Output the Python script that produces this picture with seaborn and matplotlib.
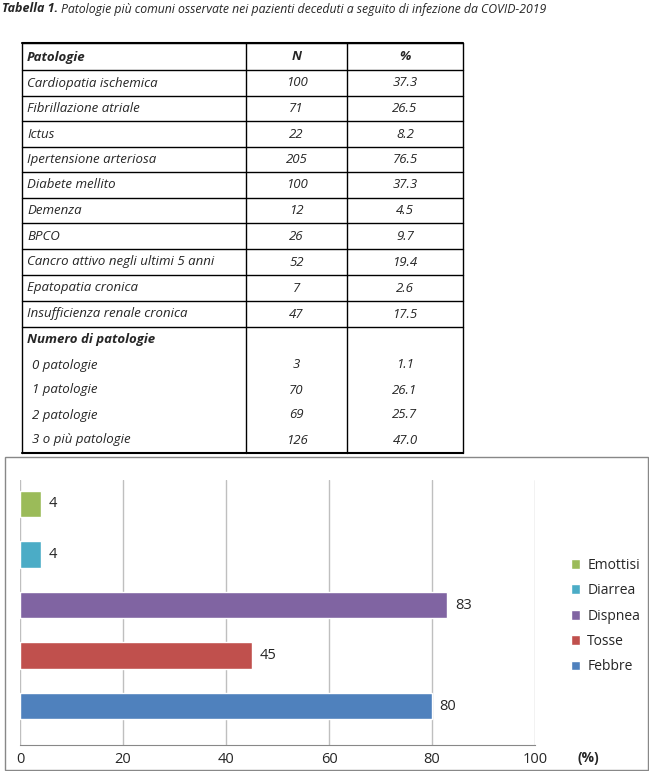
import matplotlib
matplotlib.use("Agg")
import matplotlib.pyplot as plt
import seaborn as sns
import pandas as pd
from matplotlib.patches import Patch, Rectangle

# table data
pathologies = ["Cardiopatia ischemica", "Fibrillazione atriale", "Ictus",
               "Ipertensione arteriosa", "Diabete mellito", "Demenza", "BPCO",
               "Cancro attivo negli ultimi 5 anni", "Epatopatia cronica",
               "Insufficienza renale cronica"]
path_n = ["100", "71", "22", "205", "100", "12", "26", "52", "7", "47"]
path_pct = ["37.3", "26.5", "8.2", "76.5", "37.3", "4.5", "9.7", "19.4", "2.6", "17.5"]
count_labels = ["0 patologie", "1 patologie", "2 patologie", "3 o più patologie"]
count_n = ["3", "70", "69", "126"]
count_pct = ["1.1", "26.1", "25.7", "47.0"]

# chart data
symptoms = ["Emottisi", "Diarrea", "Dispnea", "Tosse", "Febbre"]
symptom_pct = [4, 4, 83, 45, 80]
symptom_colors = ["#9BBB59", "#4BACC6", "#8064A2", "#C0504D", "#4F81BD"]

sns.set_style("white")
plt.rcParams["font.family"] = ["Open Sans", "DejaVu Sans"]

fig = plt.figure(figsize=(6.49, 7.71), dpi=100)
bg = fig.add_axes([0, 0, 1, 1])
bg.set_xlim(0, 649)
bg.set_ylim(771, 0)
bg.axis("off")

bg.text(2, 9, "Tabella 1.", fontsize=9, style="italic", fontweight="bold", va="center")
bg.text(61, 9, "Patologie più comuni osservate nei pazienti deceduti a seguito di infezione da COVID-2019",
        fontsize=8.8, style="italic", va="center")

# table grid
x0, x1, x2, x3 = 22, 246, 347, 463
y_top, y_bot = 43, 453
row_edges = [43, 70, 96, 121, 147, 172, 198, 223, 249, 275, 301, 327]
for y in row_edges:
    bg.plot([x0, x3], [y, y], color="black", lw=1)
bg.plot([x0, x3], [y_bot, y_bot], color="black", lw=1.5)
for x in (x0, x1, x2, x3):
    bg.plot([x, x], [y_top, y_bot], color="black", lw=1)
bg.plot([x0, x3], [y_top, y_top], color="black", lw=1.5)

fs = 9.5
bg.text(x0 + 5, 57, "Patologie", fontsize=fs, style="italic", fontweight="bold", va="center")
bg.text((x1 + x2) / 2, 57, "N", fontsize=fs, style="italic", fontweight="bold", va="center", ha="center")
bg.text((x2 + x3) / 2, 57, "%", fontsize=fs, style="italic", fontweight="bold", va="center", ha="center")
for i, (name, n, p) in enumerate(zip(pathologies, path_n, path_pct)):
    yc = (row_edges[i + 1] + row_edges[i + 2]) / 2 if i + 2 < len(row_edges) else (row_edges[i + 1] + 327) / 2
    bg.text(x0 + 5, yc, name, fontsize=fs, style="italic", va="center")
    bg.text((x1 + x2) / 2, yc, n, fontsize=fs, style="italic", va="center", ha="center")
    bg.text((x2 + x3) / 2, yc, p, fontsize=fs, style="italic", va="center", ha="center")
bg.text(x0 + 5, 340, "Numero di patologie", fontsize=fs, style="italic", fontweight="bold", va="center")
for i, (name, n, p) in enumerate(zip(count_labels, count_n, count_pct)):
    yc = 365 + i * 25
    bg.text(x0 + 10, yc, name, fontsize=fs, style="italic", va="center")
    bg.text((x1 + x2) / 2, yc, n, fontsize=fs, style="italic", va="center", ha="center")
    bg.text((x2 + x3) / 2, yc, p, fontsize=fs, style="italic", va="center", ha="center")

# chart border
bg.add_patch(Rectangle((5, 457), 643, 313, fill=False, edgecolor="#888888", lw=1))

df = pd.DataFrame({"symptom": symptoms, "pct": symptom_pct})
ax = fig.add_axes([20 / 649, 26 / 771, 515 / 649, 265 / 771])
sns.barplot(data=df, x="pct", y="symptom", hue="symptom", palette=symptom_colors,
            orient="h", width=0.53, saturation=1, legend=False, ax=ax, zorder=3)
ax.set_xlim(0, 100)
ax.set_ylim(4.77, -0.475)
ax.set_xticks([0, 20, 40, 60, 80, 100])
ax.tick_params(axis="x", labelsize=10.5, length=0, pad=5)
ax.set_yticks([])
ax.set_xlabel("")
ax.set_ylabel("")
ax.grid(axis="x", color="#BFBFBF", lw=1, zorder=0)
for s in ("top", "right", "left"):
    ax.spines[s].set_visible(False)
ax.spines["bottom"].set_color("#888888")
for i, v in enumerate(symptom_pct):
    ax.text(v + 1.5, i, str(v), va="center", fontsize=10.5)
bg.text(588, 758, "(%)", fontsize=10, fontweight="bold", va="center", ha="center")

handles = [Patch(facecolor=c, label=s) for s, c in zip(symptoms, symptom_colors)]
fig.legend(handles=handles, loc="center left", bbox_to_anchor=(558 / 649, 1 - 616 / 771),
           frameon=False, fontsize=10, handlelength=0.7, handleheight=0.7, labelspacing=0.75,
           handletextpad=0.5)

fig.savefig("out.png", dpi=100)
